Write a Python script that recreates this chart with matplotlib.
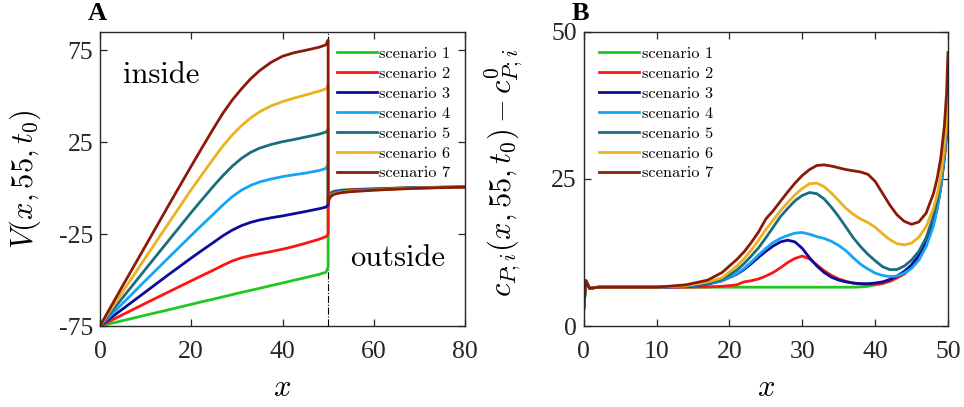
import matplotlib
matplotlib.use("Agg")
import matplotlib.pyplot as plt

plt.rcParams["mathtext.fontset"] = "cm"
plt.rcParams["axes.unicode_minus"] = False

# ---------------- data ----------------
labels = ["scenario 1", "scenario 2", "scenario 3", "scenario 4",
          "scenario 5", "scenario 6", "scenario 7"]
colors = ["#1ec81e", "#ff1414", "#0c0c9c", "#16a4f5",
          "#1a6e7e", "#edb120", "#8b1a08"]

# Panel A: membrane potential, inside (x <= 50) and outside (x >= 50)
xa_in = [0, 5, 10, 15, 20, 22.5, 25, 27, 29, 31, 33, 35, 37.5, 40, 42.5, 45, 48, 49.5, 50]
va_in_1 = [-75, -72.1, -69.1, -66.2, -63.2, -61.7, -60.3, -59.1, -57.9, -56.7, -55.6, -54.5, -53.0, -51.6, -50.1, -48.7, -46.9, -45.8, -43.0]
va_in_2 = [-75, -68.8, -62.6, -56.5, -50.4, -47.4, -44.4, -41.9, -39.6, -37.9, -36.7, -35.7, -34.5, -33.2, -31.7, -30.0, -27.8, -26.4, -25.0]
va_in_3 = [-75, -65.7, -56.4, -47.1, -38.0, -33.6, -29.3, -25.8, -22.8, -20.4, -18.6, -17.3, -16.1, -15.1, -13.9, -12.7, -11.2, -10.3, -9.0]
va_in_4 = [-75, -62.6, -50.2, -37.9, -25.7, -19.7, -13.8, -9.0, -4.6, -1.1, 1.5, 3.4, 5.0, 6.3, 7.3, 8.2, 9.6, 10.7, 13.0]
va_in_5 = [-75, -59.5, -44.0, -28.6, -13.2, -5.8, 1.5, 7.0, 12.0, 16.2, 19.5, 21.8, 23.8, 25.3, 26.5, 27.8, 29.4, 30.5, 32.0]
va_in_6 = [-75, -56.3, -37.7, -19.2, -0.8, 7.9, 16.5, 23.2, 29.0, 34.0, 38.2, 41.6, 44.8, 47.1, 49.0, 50.7, 52.8, 54.0, 56.0]
va_in_7 = [-75, -53.0, -31.3, -9.5, 12.0, 22.6, 33.0, 41.0, 48.0, 54.0, 59.5, 64.0, 68.5, 71.8, 73.7, 75.0, 76.7, 78.0, 80.6]

xa_out = [50, 50.3, 50.8, 51.5, 53, 55, 60, 65, 70, 75, 80]
va_out_1 = [-5.5, -3.2, -2.1, -1.5, -1.0, -0.7, -0.3, 0.1, 0.4, 0.6, 0.6]
va_out_2 = [-6.0, -3.6, -2.5, -1.8, -1.2, -0.9, -0.4, 0.0, 0.3, 0.5, 0.6]
va_out_3 = [-6.5, -4.0, -2.9, -2.1, -1.5, -1.1, -0.6, -0.1, 0.2, 0.5, 0.6]
va_out_4 = [-6.8, -4.3, -3.1, -2.3, -1.7, -1.3, -0.7, -0.2, 0.2, 0.4, 0.6]
va_out_5 = [-7.2, -4.7, -3.4, -2.6, -1.9, -1.5, -0.8, -0.3, 0.1, 0.4, 0.6]
va_out_6 = [-7.6, -5.1, -3.7, -2.9, -2.2, -1.7, -1.0, -0.4, 0.1, 0.4, 0.6]
va_out_7 = [-8.0, -5.5, -4.0, -3.2, -2.4, -1.9, -1.1, -0.5, 0.0, 0.3, 0.6]

a_xticks = [0, 20, 40, 60, 80]
a_yticks = [-75, -25, 25, 75]
a_yticklabels = ["-75", "-25", "25", "75"]

# Panel B: concentration above baseline
xb = [0, 0.3, 0.8, 2, 6, 10, 14, 17, 19, 21, 22, 23, 24, 25, 26, 27, 28, 29, 30,
      31, 32, 33, 34, 35, 36, 37, 38, 39, 40, 41, 42, 43, 44, 45, 46, 47,
      48, 48.5, 49, 49.5, 49.8, 50]
cb_1 = [2.8, 7.7, 6.4, 6.6, 6.6, 6.6, 6.6, 6.6, 6.6, 6.6, 6.6, 6.6, 6.6, 6.6, 6.6, 6.6, 6.6, 6.6, 6.6,
        6.6, 6.6, 6.6, 6.6, 6.6, 6.6, 6.6, 6.65, 6.75, 7.0, 7.2, 7.6, 8.2, 8.8, 10.0, 11.6, 14.0,
        17.5, 20.0, 23.5, 28.5, 32.0, 35.5]
cb_2 = [2.8, 7.7, 6.4, 6.6, 6.6, 6.6, 6.6, 6.65, 6.75, 7.0, 7.5, 7.7, 8.0, 8.5, 9.1, 9.9, 10.8, 11.5, 11.9,
        11.4, 10.4, 9.4, 8.6, 8.0, 7.6, 7.3, 7.15, 7.1, 7.1, 7.25, 7.6, 8.2, 8.9, 10.0, 11.6, 14.0,
        17.5, 20.0, 23.5, 28.5, 32.5, 36.0]
cb_3 = [2.8, 7.7, 6.4, 6.6, 6.6, 6.6, 6.7, 7.1, 7.7, 8.8, 9.6, 10.6, 11.7, 12.7, 13.6, 14.3, 14.6, 14.3, 13.2,
        11.6, 10.2, 9.1, 8.3, 7.8, 7.5, 7.3, 7.2, 7.2, 7.3, 7.5, 7.9, 8.5, 9.3, 10.4, 12.0, 14.3,
        17.8, 20.3, 23.8, 29.0, 33.0, 36.5]
cb_4 = [2.8, 7.7, 6.4, 6.6, 6.6, 6.6, 6.75, 7.2, 7.7, 8.9, 9.8, 10.9, 12.1, 13.2, 14.2, 14.9, 15.4, 15.8, 15.9,
        15.6, 15.2, 14.9, 14.4, 13.7, 12.8, 11.6, 10.5, 9.7, 9.0, 8.6, 8.4, 8.5, 9.0, 9.8, 11.2, 13.5,
        17.0, 19.8, 23.5, 29.0, 33.0, 37.0]
cb_5 = [2.8, 7.7, 6.4, 6.6, 6.6, 6.6, 6.8, 7.3, 7.9, 9.5, 10.6, 11.9, 13.3, 15.0, 16.8, 18.6, 20.0, 21.3, 22.2,
        22.7, 22.5, 21.6, 20.2, 18.6, 16.8, 15.0, 13.5, 12.2, 11.1, 10.1, 9.6, 9.6, 10.2, 11.2, 12.7, 15.0,
        18.7, 21.3, 25.0, 30.5, 34.5, 38.0]
cb_6 = [2.8, 7.7, 6.4, 6.6, 6.6, 6.6, 6.85, 7.5, 8.2, 10.2, 11.4, 12.9, 14.6, 16.4, 18.0, 19.6, 21.0, 22.3, 23.4,
        24.2, 24.3, 23.7, 22.6, 21.3, 20.0, 19.0, 18.2, 17.6, 16.8, 15.7, 14.7, 14.0, 13.8, 14.1, 15.1, 16.9,
        20.0, 22.3, 25.3, 30.5, 35.0, 40.0]
cb_7 = [2.8, 7.7, 6.4, 6.6, 6.6, 6.6, 7.0, 7.8, 9.1, 11.3, 12.6, 14.2, 16.0, 18.2, 19.6, 21.2, 22.8, 24.3, 25.6,
        26.6, 27.3, 27.4, 27.2, 26.9, 26.6, 26.4, 26.2, 25.8, 24.6, 22.6, 20.6, 18.9, 17.8, 17.3, 17.7, 19.2,
        22.5, 25.0, 28.5, 34.0, 39.5, 46.5]

b_xticks = [0, 10, 20, 30, 40, 50]
b_yticks = [0, 25, 50]

# ---------------- figure ----------------
fig = plt.figure(figsize=(9.64, 4.07), dpi=100)
axA = fig.add_axes([0.1037, 0.199, 0.3787, 0.7224])
axB = fig.add_axes([0.6055, 0.199, 0.3779, 0.7224])

edge = "#262626"
lw = 2.0
leg_prop = {"family": "cmr10", "size": 11.8}
leg_kw = dict(frameon=False, prop=leg_prop, handlelength=2.44, handletextpad=0.18,
              labelspacing=0.33, borderpad=0, borderaxespad=0, loc="upper left")

def style_axes(ax):
    for s in ax.spines.values():
        s.set_color(edge)
        s.set_linewidth(1.0)
    ax.tick_params(direction="in", length=5, width=0.9, colors=edge,
                   top=True, right=True, labelsize=18.5)
    ax.tick_params(axis="x", pad=11)
    ax.tick_params(axis="y", pad=5)
    for lab in ax.get_xticklabels() + ax.get_yticklabels():
        lab.set_fontfamily("Liberation Serif")
        lab.set_fontsize(18.5)

# Panel A
inside = [va_in_1, va_in_2, va_in_3, va_in_4, va_in_5, va_in_6, va_in_7]
outside = [va_out_1, va_out_2, va_out_3, va_out_4, va_out_5, va_out_6, va_out_7]
axA.axvline(50, color="black", lw=0.8, ls="-.", zorder=1)
for vin, vout, c, lab in zip(inside, outside, colors, labels):
    axA.plot(xa_in + xa_out, vin + vout, color=c, lw=lw, label=lab, zorder=2)
axA.set_xlim(0, 80)
axA.set_ylim(-75, 85)
axA.set_xticks(a_xticks)
axA.set_yticks(a_yticks)
axA.set_yticklabels(a_yticklabels)
style_axes(axA)
axA.set_xlabel(r"$x$", fontsize=22)
axA.set_ylabel(r"$V(x,55,t_0)$", fontsize=22)
axA.xaxis.set_label_coords(0.5, -0.16)
axA.yaxis.set_label_coords(-0.155, 0.5)
axA.text(13.4, 61.5, "inside", family="cmr10", fontsize=22, ha="center", va="center")
axA.text(65.3, -38, "outside", family="cmr10", fontsize=22, ha="center", va="center")
axA.legend(bbox_to_anchor=(0.648, 0.95), **leg_kw)

# Panel B
series_b = [cb_1, cb_2, cb_3, cb_4, cb_5, cb_6, cb_7]
for yv, c, lab in zip(series_b, colors, labels):
    axB.plot(xb, yv, color=c, lw=lw, label=lab)
axB.set_xlim(0, 50)
axB.set_ylim(0, 50)
axB.set_xticks(b_xticks)
axB.set_yticks(b_yticks)
style_axes(axB)
axB.set_xlabel(r"$x$", fontsize=22)
axB.set_ylabel(r"$c_{P;i}(x,55,t_0)-c^0_{P;i}$", fontsize=22)
axB.xaxis.set_label_coords(0.5, -0.16)
axB.yaxis.set_label_coords(-0.16, 0.52)
axB.legend(bbox_to_anchor=(0.042, 0.95), **leg_kw)

fig.text(88 / 964, 1 - 20 / 407, "A", family="Liberation Serif", weight="bold",
         fontsize=19, ha="left", va="baseline")
fig.text(572 / 964, 1 - 20 / 407, "B", family="Liberation Serif", weight="bold",
         fontsize=19, ha="left", va="baseline")

fig.savefig("out.png", dpi=100)
